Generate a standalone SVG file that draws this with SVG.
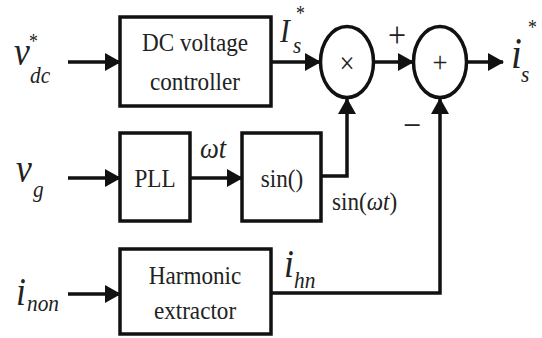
<svg xmlns="http://www.w3.org/2000/svg" width="542" height="338" viewBox="0 0 542 338">
<defs>
<marker id="ah" markerUnits="userSpaceOnUse" markerWidth="16" markerHeight="18" refX="15" refY="9" orient="auto">
<path d="M0,0 L16,9 L0,18 z" fill="#111"/>
</marker>
</defs>
<rect width="542" height="338" fill="#fff"/>
<g id="connectors" fill="none" stroke="#111" stroke-width="3.5">
<line x1="68" y1="62" x2="120" y2="62" marker-end="url(#ah)"/>
<line x1="68" y1="178" x2="120" y2="178" marker-end="url(#ah)"/>
<line x1="68" y1="294" x2="120" y2="294" marker-end="url(#ah)"/>
<line x1="190" y1="178" x2="242" y2="178" marker-end="url(#ah)"/>
<line x1="272" y1="62" x2="320" y2="62" marker-end="url(#ah)"/>
<line x1="374" y1="62" x2="413" y2="62" marker-end="url(#ah)"/>
<line x1="467" y1="62" x2="503" y2="62" marker-end="url(#ah)"/>
<polyline points="322,176 347,176 347,99" marker-end="url(#ah)"/>
<polyline points="272,293 440,293 440,99" marker-end="url(#ah)"/>
</g>
<g id="dc">
<rect x="120" y="17" width="151" height="89" fill="#fff" stroke="#111" stroke-width="3.5"/>
<text style="font-family:'Liberation Serif',serif !important;font-size:26px;fill:#222;text-anchor:middle" transform="translate(195,51) scale(0.89,1)">DC voltage</text>
<text style="font-family:'Liberation Serif',serif !important;font-size:26px;fill:#222;text-anchor:middle" transform="translate(195,90) scale(0.89,1)">controller</text>
</g>
<g id="pll">
<rect x="120" y="133" width="70" height="88" fill="#fff" stroke="#111" stroke-width="3.5"/>
<text style="font-family:'Liberation Serif',serif !important;font-size:26px;fill:#222;text-anchor:middle" transform="translate(155,187) scale(0.89,1)">PLL</text>
</g>
<g id="sin">
<rect x="242" y="133" width="79" height="88" fill="#fff" stroke="#111" stroke-width="3.5"/>
<text style="font-family:'Liberation Serif',serif !important;font-size:26px;fill:#222;text-anchor:middle" transform="translate(282,187) scale(0.89,1)">sin()</text>
</g>
<g id="harmonic">
<rect x="120" y="249" width="151" height="85" fill="#fff" stroke="#111" stroke-width="3.5"/>
<text style="font-family:'Liberation Serif',serif !important;font-size:26px;fill:#222;text-anchor:middle" transform="translate(195,284) scale(0.89,1)">Harmonic</text>
<text style="font-family:'Liberation Serif',serif !important;font-size:26px;fill:#222;text-anchor:middle" transform="translate(195,319) scale(0.89,1)">extractor</text>
</g>
<g id="mult">
<ellipse cx="347" cy="62" rx="26.5" ry="35.5" fill="#fff" stroke="#111" stroke-width="3.5"/>
<text style="font-family:'Liberation Serif',serif !important;font-size:30px;fill:#222;text-anchor:middle" transform="translate(347,73) scale(0.89,1)">×</text>
</g>
<g id="sum">
<ellipse cx="440" cy="62" rx="26.5" ry="35.5" fill="#fff" stroke="#111" stroke-width="3.5"/>
<text style="font-family:'Liberation Serif',serif !important;font-size:30px;fill:#222;text-anchor:middle" transform="translate(440,72) scale(0.89,1)">+</text>
<text style="font-family:'Liberation Serif',serif !important;font-size:36px;fill:#222;text-anchor:middle" transform="translate(397,47) scale(0.89,1)">+</text>
<text style="font-family:'Liberation Serif',serif !important;font-size:36px;fill:#222;text-anchor:middle" transform="translate(412,137) scale(0.89,1)">−</text>
</g>
<g id="labels">
<text style="font-family:'Liberation Serif',serif !important;font-size:40px;font-style:italic;fill:#222" transform="translate(14,65) scale(0.89,1)">v</text>
<text style="font-family:'Liberation Serif',serif !important;font-size:20px;fill:#222" transform="translate(29,48) scale(0.89,1)">*</text>
<text style="font-family:'Liberation Serif',serif !important;font-size:24px;font-style:italic;fill:#222" transform="translate(30,83) scale(0.89,1)">dc</text>

<text style="font-family:'Liberation Serif',serif !important;font-size:40px;font-style:italic;fill:#222" transform="translate(16,182) scale(0.89,1)">v</text>
<text style="font-family:'Liberation Serif',serif !important;font-size:24px;font-style:italic;fill:#222" transform="translate(33,197) scale(0.89,1)">g</text>

<text style="font-family:'Liberation Serif',serif !important;font-size:40px;font-style:italic;fill:#222" transform="translate(16,305) scale(0.89,1)">i</text>
<text style="font-family:'Liberation Serif',serif !important;font-size:24px;font-style:italic;fill:#222" transform="translate(27,311) scale(0.89,1)">non</text>

<text style="font-family:'Liberation Serif',serif !important;font-size:30px;font-style:italic;fill:#222" transform="translate(200,158) scale(0.89,1)">ωt</text>

<text style="font-family:'Liberation Serif',serif !important;font-size:33px;font-style:italic;fill:#222" transform="translate(280,42) scale(0.89,1)">I</text>
<text style="font-family:'Liberation Serif',serif !important;font-size:20px;fill:#222" transform="translate(296,20) scale(0.89,1)">*</text>
<text style="font-family:'Liberation Serif',serif !important;font-size:24px;font-style:italic;fill:#222" transform="translate(293,53) scale(0.89,1)">s</text>

<text style="font-family:'Liberation Serif',serif !important;font-size:44px;font-style:italic;fill:#222" transform="translate(511,68) scale(0.89,1)">i</text>
<text style="font-family:'Liberation Serif',serif !important;font-size:20px;fill:#222" transform="translate(528,34) scale(0.89,1)">*</text>
<text style="font-family:'Liberation Serif',serif !important;font-size:24px;font-style:italic;fill:#222" transform="translate(521,82) scale(0.89,1)">s</text>

<text style="font-family:'Liberation Serif',serif !important;font-size:26px;fill:#222" transform="translate(332,210) scale(0.89,1)">sin(<tspan style="font-style:italic">ωt</tspan>)</text>

<text style="font-family:'Liberation Serif',serif !important;font-size:40px;font-style:italic;fill:#222" transform="translate(284,277) scale(0.89,1)">i</text>
<text style="font-family:'Liberation Serif',serif !important;font-size:24px;font-style:italic;fill:#222" transform="translate(294,288) scale(0.89,1)">hn</text>
</g>
</svg>
